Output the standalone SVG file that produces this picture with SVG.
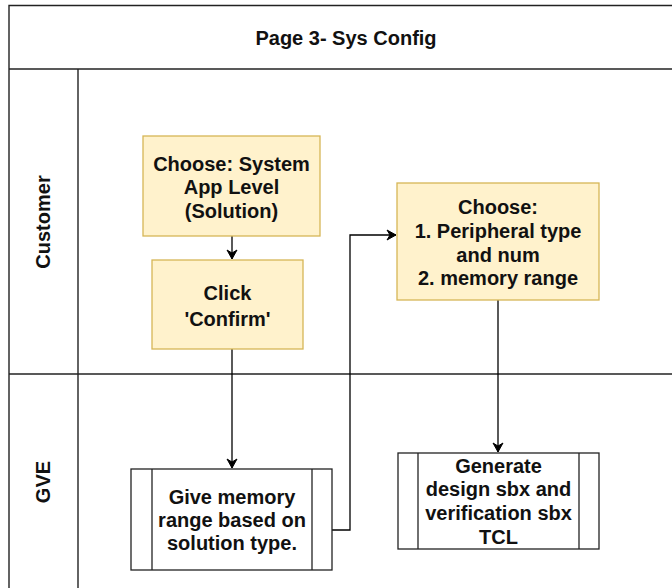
<svg xmlns="http://www.w3.org/2000/svg" width="672" height="588" viewBox="0 0 672 588">
  <defs>
    <marker id="arrow" markerWidth="12" markerHeight="12" refX="10" refY="6" orient="auto" markerUnits="userSpaceOnUse">
      <path d="M1,1 L10,6 L1,11 L4,6 Z" fill="#000" stroke="#000" stroke-width="1"/>
    </marker>
    <style>
      .lane { fill: none; stroke: #222; stroke-width: 1.4; }
      .t { font-family: "Liberation Sans", Arial, Helvetica, sans-serif; font-weight: bold; font-size: 20px; fill: #111; text-anchor: middle; }
      .yellow { fill: #fff2cc; stroke: #d6b656; stroke-width: 1.3; }
      .proc { fill: #fff; stroke: #222; stroke-width: 1.3; }
      .edge { fill: none; stroke: #000; stroke-width: 1.3; marker-end: url(#arrow); }
    </style>
  </defs>
  <rect width="672" height="588" fill="#fff"/>

  <g id="pool">
    <path class="lane" d="M680,5.5 L9,5.5 L9,600"/>
    <line class="lane" x1="9" y1="69" x2="680" y2="69"/>
    <line class="lane" x1="78" y1="69" x2="78" y2="600"/>
    <line class="lane" x1="9" y1="374" x2="680" y2="374"/>
    <text class="t" x="346" y="45">Page 3- Sys Config</text>
  </g>

  <g id="lane-customer">
    <text class="t" transform="translate(50,222) rotate(-90)">Customer</text>
  </g>
  <g id="lane-gve">
    <text class="t" transform="translate(50,482) rotate(-90)">GVE</text>
  </g>

  <g id="connectors">
    <line class="edge" x1="232" y1="236" x2="232" y2="259"/>
    <line class="edge" x1="232" y1="349" x2="232" y2="468"/>
    <path class="edge" d="M332,530 L350,530 L350,235 L396,235"/>
    <line class="edge" x1="498" y1="300" x2="498" y2="452"/>
  </g>

  <g id="node-choose-system">
    <rect class="yellow" x="143" y="136" width="177" height="100"/>
    <text class="t" x="231.5" y="170.5">Choose: System</text>
    <text class="t" x="231.5" y="194">App Level</text>
    <text class="t" x="231.5" y="217.5">(Solution)</text>
  </g>

  <g id="node-click-confirm">
    <rect class="yellow" x="152" y="260" width="151" height="89"/>
    <text class="t" x="227.5" y="299.5">Click</text>
    <text class="t" x="227.5" y="326">'Confirm'</text>
  </g>

  <g id="node-choose-peripheral">
    <rect class="yellow" x="397" y="183" width="202" height="117"/>
    <text class="t" x="498" y="214">Choose:</text>
    <text class="t" x="498" y="237.5">1. Peripheral type</text>
    <text class="t" x="498" y="261.5">and num</text>
    <text class="t" x="498" y="284.5">2. memory range</text>
  </g>

  <g id="node-give-memory">
    <rect class="proc" x="131" y="469" width="201" height="101"/>
    <line class="proc" x1="152" y1="469" x2="152" y2="570"/>
    <line class="proc" x1="312" y1="469" x2="312" y2="570"/>
    <text class="t" x="232" y="504">Give memory</text>
    <text class="t" x="232" y="527">range based on</text>
    <text class="t" x="232" y="550">solution type.</text>
  </g>

  <g id="node-generate">
    <rect class="proc" x="398" y="453" width="201" height="96"/>
    <line class="proc" x1="418" y1="453" x2="418" y2="549"/>
    <line class="proc" x1="579" y1="453" x2="579" y2="549"/>
    <text class="t" x="498.5" y="473">Generate</text>
    <text class="t" x="498.5" y="496">design sbx and</text>
    <text class="t" x="498.5" y="520">verification sbx</text>
    <text class="t" x="498.5" y="544">TCL</text>
  </g>
</svg>
